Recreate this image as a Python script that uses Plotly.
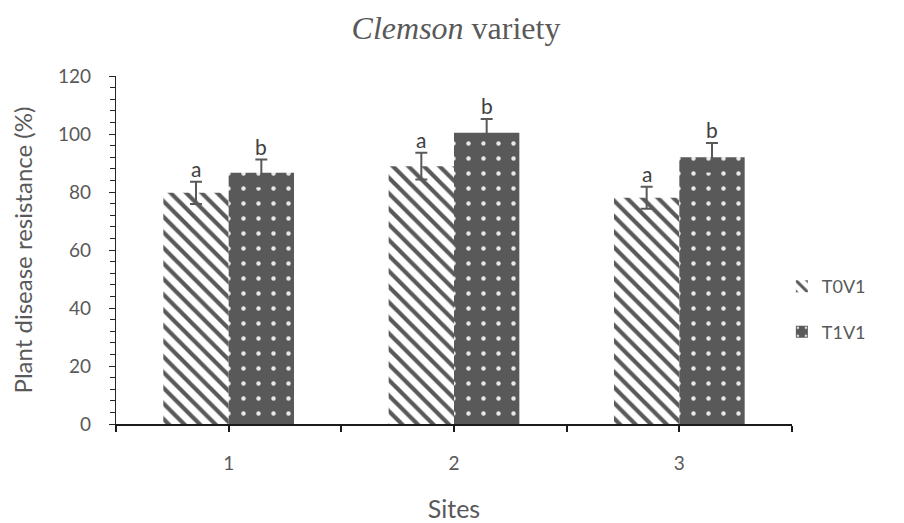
import plotly.graph_objects as go

sites = ["1", "2", "3"]
t0v1 = [79.7, 88.9, 78.0]
t0v1_err = [3.8, 4.6, 3.8]
t1v1 = [86.6, 100.4, 92.0]
t1v1_err = [4.6, 4.8, 4.9]
t0v1_letters = ["a", "a", "a"]
t1v1_letters = ["b", "b", "b"]

x_pos = [i + 1 for i in range(len(sites))]
GRAY = "#595959"
FONT = "Lato"
BARGAP = 0.42
half = (1 - BARGAP) / 4  # offset of each bar center from the category center

fig = go.Figure()
fig.add_trace(go.Bar(
    name="T0V1", x=x_pos, y=t0v1, legendgroup="g0",
    marker=dict(color="white", line=dict(width=0),
                pattern=dict(shape="\\", fgcolor=GRAY, bgcolor="white", fgopacity=1,
                             size=11, solidity=0.38, fillmode="overlay")),
    error_y=dict(type="data", array=t0v1_err, visible=True,
                 color=GRAY, thickness=2, width=6),
))
fig.add_trace(go.Bar(
    name="T1V1", x=x_pos, y=t1v1, legendgroup="g1",
    marker=dict(color=GRAY, line=dict(width=0),
                pattern=dict(shape=".", fgcolor="#e8e8e8", bgcolor=GRAY, fgopacity=1,
                             size=15, solidity=0.07, fillmode="overlay")),
    error_y=dict(type="data", array=t1v1_err, visible=True,
                 color=GRAY, thickness=2, width=6),
))

for xs, vals, errs, letters, sign in [(x_pos, t0v1, t0v1_err, t0v1_letters, -1),
                                      (x_pos, t1v1, t1v1_err, t1v1_letters, 1)]:
    for xv, v, e, lt in zip(xs, vals, errs, letters):
        fig.add_annotation(x=xv + sign * half, y=v + e, text=lt, showarrow=False,
                           xref="x", yref="y", yanchor="bottom", yshift=-1,
                           font=dict(family=FONT, size=21, color="#404040"))

W, H = 896, 515
fig.update_layout(
    width=W, height=H, autosize=False,
    paper_bgcolor="white", plot_bgcolor="white",
    margin=dict(l=108, r=112, t=68, b=99, autoexpand=False),
    barmode="group", bargap=BARGAP, bargroupgap=0,
    title=dict(text="<i>Clemson</i> variety", x=0.5, xanchor="center",
               y=1 - 20 / H, yanchor="middle", automargin=False,
               font=dict(family="Liberation Serif", size=32, color=GRAY)),
    font=dict(family=FONT, color=GRAY),
    legend=dict(x=0.985, xanchor="left", y=0.33, yanchor="middle",
                font=dict(family=FONT, size=18, color=GRAY),
                tracegroupgap=19, bgcolor="rgba(0,0,0,0)"),
    showlegend=True,
)
fig.update_xaxes(
    range=[0.5, 3.5], tickvals=x_pos, ticktext=sites, automargin=False,
    showline=True, linecolor="#1a1a1a", linewidth=1.5,
    ticks="outside", ticklen=6, tickcolor="#1a1a1a", tickwidth=1.5,
    minor=dict(tick0=0.5, dtick=1, ticks="outside", ticklen=6,
               tickcolor="#1a1a1a", tickwidth=1.5, showgrid=False),
    showgrid=False, zeroline=False, ticklabelstandoff=15,
    tickfont=dict(family=FONT, size=19, color=GRAY),
    title=dict(text="Sites", standoff=29, font=dict(family=FONT, size=25, color=GRAY)),
)
fig.update_yaxes(
    range=[0, 120], dtick=20, tick0=0, automargin=False,
    showline=True, linecolor="#262626", linewidth=1.2,
    ticks="outside", ticklen=6, tickcolor="#262626", tickwidth=1.2,
    minor=dict(dtick=4, ticks="outside", ticklen=5,
               tickcolor="#262626", tickwidth=1, showgrid=False),
    showgrid=False, zeroline=False, ticklabelstandoff=14,
    tickfont=dict(family=FONT, size=19, color=GRAY),
    title=dict(text="Plant disease resistance (%)", standoff=23,
               font=dict(family=FONT, size=24, color=GRAY)),
)

fig.write_html("out.html")
